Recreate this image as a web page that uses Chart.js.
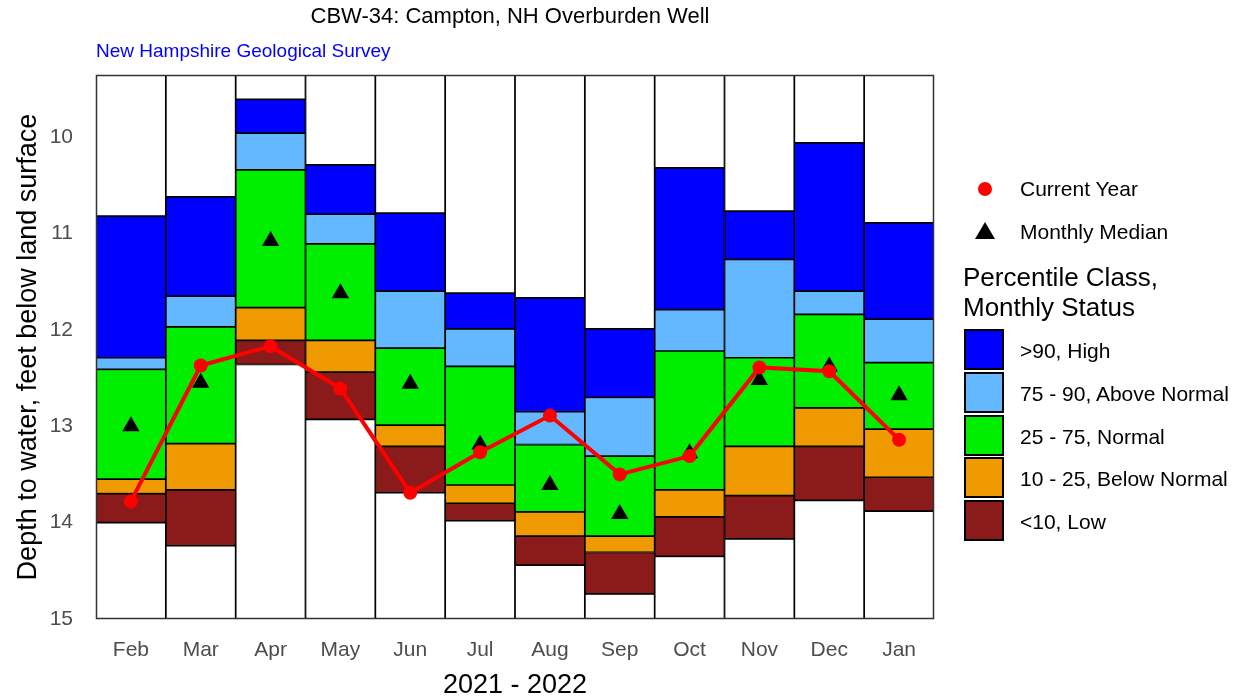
<!DOCTYPE html>
<html>
<head>
<meta charset="utf-8">
<title>CBW-34: Campton, NH Overburden Well</title>
<script src="https://cdn.jsdelivr.net/npm/chart.js@4.4.1/dist/chart.umd.min.js"></script>
<style>
    body { margin: 0; background: #fff; font-family: "Liberation Sans", Arial, sans-serif; }
    #wrap { position: relative; width: 1249px; height: 700px; }
    .txt { position: absolute; white-space: nowrap; }
    #title { left: 0; width: 1020px; top: 3px; text-align: center; font-size: 22px; color: #000; }
    #subtitle { left: 96px; top: 40px; font-size: 19px; color: #0000ff; }
    .lbl { font-size: 21px; color: #000; line-height: 24px; }
    #legTitle { left: 963px; top: 262px; font-size: 26px; line-height: 30px; color: #000; }
    .box { position: absolute; left: 964px; width: 36px; height: 37px; border: 2px solid #000; }
    #dot { position: absolute; left: 978px; top: 182px; width: 14px; height: 14px; border-radius: 50%; background: #ff0000; }
    #tri { position: absolute; left: 975px; top: 222px; width: 0; height: 0;
           border-left: 10px solid transparent; border-right: 10px solid transparent; border-bottom: 17px solid #000; }
</style>
</head>
<body>
<div id="wrap">
    <canvas id="wellChart"></canvas>
    <div id="title" class="txt">CBW-34: Campton, NH Overburden Well</div>
    <div id="subtitle" class="txt">New Hampshire Geological Survey</div>
    <div id="dot"></div>
    <div class="txt lbl" style="left:1020px; top:177px;">Current Year</div>
    <div id="tri"></div>
    <div class="txt lbl" style="left:1020px; top:220px;">Monthly Median</div>
    <div id="legTitle" class="txt">Percentile Class,<br>Monthly Status</div>
    <div id="legBoxes"></div>
</div>
<script>
// months, Feb 2021 - Jan 2022
var months = ["Feb", "Mar", "Apr", "May", "Jun", "Jul", "Aug", "Sep", "Oct", "Nov", "Dec", "Jan"];

// percentile boundaries, feet below land surface
var pMax = [10.82, 10.62, 9.61, 10.29, 10.79, 11.62, 11.67, 11.99, 10.32, 10.77, 10.06, 10.89];
var p90  = [12.29, 11.65, 9.96, 10.80, 11.60, 11.99, 12.85, 12.70, 11.79, 11.27, 11.60, 11.89];
var p75  = [12.41, 11.97, 10.34, 11.11, 12.19, 12.38, 13.19, 13.31, 12.22, 12.29, 11.84, 12.34];
var p25  = [13.55, 13.18, 11.77, 12.11, 12.99, 13.61, 13.89, 14.14, 13.66, 13.21, 12.81, 13.03];
var p10  = [13.70, 13.66, 12.11, 12.44, 13.21, 13.80, 14.14, 14.31, 13.94, 13.72, 13.21, 13.53];
var pMin = [14.00, 14.24, 12.36, 12.93, 13.69, 13.98, 14.44, 14.74, 14.35, 14.17, 13.77, 13.88];

var median  = [13.00, 12.55, 11.08, 11.62, 12.56, 13.19, 13.61, 13.91, 13.28, 12.52, 12.38, 12.68];
var current = [13.78, 12.37, 12.17, 12.61, 13.69, 13.27, 12.89, 13.50, 13.31, 12.39, 12.43, 13.14];

var yTicks = [10, 11, 12, 13, 14, 15];
var yTop = 9.357, yBottom = 15;

var classLabels = [">90, High", "75 - 90, Above Normal", "25 - 75, Normal", "10 - 25, Below Normal", "<10, Low"];
var classColors = ["#0000ff", "#63b8ff", "#00ee00", "#ee9a00", "#8b1a1a"];

// legend boxes
var legHtml = "";
for (var i = 0; i < classLabels.length; i++) {
    var boxTop = 329 + i * 42.8;
    legHtml += '<div class="box" style="top:' + boxTop + 'px; background:' + classColors[i] + ';"></div>';
    legHtml += '<div class="txt lbl" style="left:1020px; top:' + (boxTop + 10) + 'px;">' +
        classLabels[i].replace("<", "&lt;").replace(">", "&gt;") + '</div>';
}
document.getElementById("legBoxes").innerHTML = legHtml;

function band(lo, hi) {
    return months.map(function (m, i) {
        var a = typeof lo === "number" ? lo : lo[i];
        var b = typeof hi === "number" ? hi : hi[i];
        return [a, b];
    });
}

function barSet(label, data, color) {
    return {
        type: "bar",
        label: label,
        data: data,
        backgroundColor: color,
        borderColor: "#000",
        borderWidth: 1.2,
        borderSkipped: false,
        grouped: false,
        categoryPercentage: 1,
        barPercentage: 1,
        order: 3
    };
}

var bounds = [pMax, p90, p75, p25, p10, pMin];
var datasets = [barSet("top", band(yTop, pMax), "#fff")];
for (var k = 0; k < classLabels.length; k++) {
    datasets.push(barSet(classLabels[k], band(bounds[k], bounds[k + 1]), classColors[k]));
}
datasets.push(barSet("bottom", band(pMin, yBottom), "#fff"));

datasets.push({
    type: "line",
    label: "Monthly Median",
    data: median,
    showLine: false,
    pointStyle: "triangle",
    pointRadius: 10,
    pointBackgroundColor: "#000",
    pointBorderColor: "#000",
    pointBorderWidth: 0,
    order: 1
});
datasets.push({
    type: "line",
    label: "Current Year",
    data: current,
    borderColor: "#ff0000",
    borderWidth: 4,
    pointRadius: 7,
    pointBackgroundColor: "#ff0000",
    pointBorderColor: "#ff0000",
    pointBorderWidth: 0,
    tension: 0,
    order: 0
});

// dark frame round the panel
var frame = {
    id: "frame",
    afterDatasetsDraw: function (chart) {
        var a = chart.chartArea, ctx = chart.ctx;
        ctx.save();
        ctx.strokeStyle = "#333";
        ctx.lineWidth = 1.5;
        ctx.strokeRect(a.left + 0.5, a.top + 0.5, a.right - a.left - 1, a.bottom - a.top - 1);
        ctx.restore();
    }
};

var tickFont = { family: "'Liberation Sans', Arial, sans-serif", size: 21 };
var titleFont = { family: "'Liberation Sans', Arial, sans-serif", size: 27, lineHeight: 1.1 };

new Chart(document.getElementById("wellChart"), {
    data: { labels: months, datasets: datasets },
    plugins: [frame],
    options: {
        responsive: true,
        maintainAspectRatio: false,
        animation: false,
        layout: { padding: { top: 75, right: 315, left: 0, bottom: 0 } },
        plugins: {
            legend: { display: false },
            tooltip: { enabled: false }
        },
        scales: {
            x: {
                grid: { display: false, drawTicks: false },
                border: { display: false },
                ticks: { color: "#4d4d4d", font: tickFont, padding: 19, maxRotation: 0 },
                title: { display: true, text: "2021 - 2022", color: "#000", font: titleFont, padding: { top: 0, bottom: 0 } },
                afterFit: function (s) { s.height = 81; }
            },
            y: {
                reverse: true,
                min: yTop,
                max: yBottom,
                grid: { display: false, drawTicks: false },
                border: { display: false },
                afterBuildTicks: function (s) { s.ticks = yTicks.map(function (v) { return { value: v }; }); },
                ticks: { color: "#4d4d4d", font: tickFont, padding: 23 },
                title: { display: true, text: "Depth to water, feet below land surface", color: "#000", font: titleFont, padding: { top: 14, bottom: 0 } },
                afterFit: function (s) { s.width = 96; }
            }
        }
    }
});
</script>
</body>
</html>
